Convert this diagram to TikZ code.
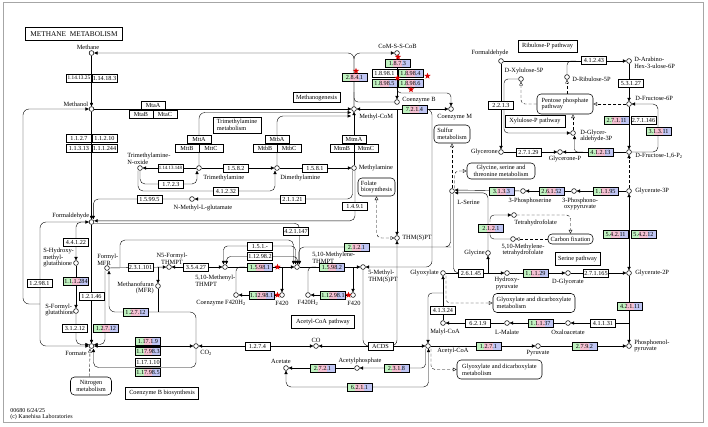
\documentclass[tikz,border=0pt]{standalone}
\usepackage{fontspec}
\setmainfont{Liberation Serif}
\usetikzlibrary{arrows.meta,shapes.geometric,backgrounds}
\definecolor{kgreen}{RGB}{192,242,192}
\definecolor{kpink}{RGB}{244,192,210}
\definecolor{kblue}{RGB}{192,198,244}

\begin{document}
\begin{tikzpicture}[x=1pt, y=-1pt, line width=0.55pt, >={Triangle[length=3.4pt,width=3.2pt]},
  cpd/.style={circle, draw, fill=white, inner sep=0pt, minimum size=4.8pt},
  ec/.style={draw, fill=white, inner sep=0pt, minimum width=25pt, minimum height=8pt, font=\fontsize{6.2}{6.2}\selectfont},
  ecs/.style={ec, font=\fontsize{5.3}{5.3}\selectfont},
  ecxs/.style={ec, font=\fontsize{4.9}{5}\selectfont},
  eck/.style={ec, path picture={
    \fill[kgreen] (path picture bounding box.north west) rectangle ([xshift=8.33pt]path picture bounding box.south west);
    \fill[kpink] ([xshift=8.33pt]path picture bounding box.north west) rectangle ([xshift=16.67pt]path picture bounding box.south west);
    \fill[kblue] ([xshift=16.67pt]path picture bounding box.north west) rectangle (path picture bounding box.south east);}},
  mt/.style={ec, minimum width=24pt},
  lbl/.style={inner sep=0pt, align=center, font=\fontsize{6.4}{6.8}\selectfont},
  mapbox/.style={draw, align=center, inner sep=0pt, font=\fontsize{6.3}{6.8}\selectfont},
  maplink/.style={mapbox, rounded corners=4pt},
  dsh/.style={dash pattern=on 3pt off 2pt, >={Triangle[open,length=3.8pt,width=3.6pt]}},
  redstar/.style={star, star points=5, star point ratio=2.4, fill=red!85!black, draw=none, inner sep=0pt, minimum size=6.5pt}]

\useasboundingbox (0,0) rectangle (708,426);
\draw[black!35, line width=0.7pt] (3,2.5) rectangle (703.5,422);

% title and map boxes
\node[draw, line width=1.3pt, minimum width=97pt, minimum height=13pt, inner sep=0pt, font=\fontsize{7.3}{8}\selectfont] (title) at (74,34) {METHANE~~METABOLISM};
\node[mapbox, minimum width=47pt, minimum height=10pt] (mgen) at (316.5,97.5) {Methanogenesis};
\node[mapbox, minimum width=48pt, minimum height=16pt, align=left] (tmam) at (237,125) {Trimethylamine\\metabolism};
\node[maplink, minimum width=36pt, minimum height=18pt, align=left] (sulfur) at (452,134) {Sulfur\\metabolism};
\node[maplink, minimum width=37pt, minimum height=18pt, align=left] (folate) at (376.5,187) {Folate\\biosynthesis};
\node[maplink, minimum width=68pt, minimum height=16pt] (gst) at (501,171) {Glycine, serine and\\threonine metabolism};
\node[maplink, minimum width=45pt, minimum height=10pt] (carbfix) at (570.5,239) {Carbon fixation};
\node[mapbox, minimum width=45pt, minimum height=13pt] (serpath) at (577.5,258.5) {Serine pathway};
\node[mapbox, minimum width=59pt, minimum height=12pt] (rupath) at (547.5,46) {Ribulose-P pathway};
\node[mapbox, minimum width=60pt, minimum height=12pt] (xupath) at (535,121) {Xylulose-P pathway};
\node[maplink, minimum width=56pt, minimum height=20pt, align=left] (ppp) at (565,104) {Pentose phosphate\\pathway};
\node[maplink, minimum width=82pt, minimum height=19pt, align=left] (glxm1) at (534,303) {Glyoxylate and dicarboxylate\\metabolism};
\node[maplink, minimum width=85pt, minimum height=19pt, align=left] (glxm2) at (499.5,369.5) {Glyoxylate and dicarboxylate\\metabolism};
\node[mapbox, minimum width=63pt, minimum height=13pt] (acpath) at (323,322) {Acetyl-CoA pathway};
\node[mapbox, minimum width=73pt, minimum height=12pt] (cobbio) at (162,393) {Coenzyme B biosynthesis};
\node[maplink, minimum width=41pt, minimum height=18pt] (nitro) at (91,386) {Nitrogen\\metabolism};

% enzymes
\node[ecs] (e11413) at (79,78) {1.14.13.25};
\node[ec] (e11418) at (104.5,78) {1.14.18.3};
\node[ec] (e1127) at (79,138.5) {1.1.2.7};
\node[ec] (e11210) at (104.5,138.5) {1.1.2.10};
\node[ec] (e11313) at (79,148.5) {1.1.3.13};
\node[ec] (e111244) at (104.5,148.5) {1.1.1.244};
\node[mt] (mtaA) at (153,105) {MtaA};
\node[mt] (mtaB) at (141,114) {MtaB};
\node[mt] (mtaC) at (165,114) {MtaC};
\node[mt] (mttA) at (199,139) {MttA};
\node[mt] (mttB) at (187,148) {MttB};
\node[mt] (mttC) at (211,148) {MttC};
\node[mt] (mtbA) at (277,139) {MtbA};
\node[mt] (mtbB) at (265,148) {MtbB};
\node[mt] (mtbC) at (289,148) {MtbC};
\node[mt] (mtmA) at (354,139) {MtmA};
\node[mt] (mtmB) at (342,148) {MtmB};
\node[mt] (mtmC) at (366,148) {MtmC};
\node[ecxs] (e114131) at (170.5,168) {1.14.13.148};
\node[ec] (e1723) at (171,184) {1.7.2.3};
\node[ec] (e41232) at (226,191) {4.1.2.32};
\node[ec] (e1582) at (236,168) {1.5.8.2};
\node[ec] (e1581) at (315,168) {1.5.8.1};
\node[ec] (e21121) at (292.5,199) {2.1.1.21};
\node[ec] (e15995) at (149.5,199) {1.5.99.5};
\node[ec] (e1491) at (355,206) {1.4.9.1};
\node[ec] (e421147) at (296,231) {4.2.1.147};
\node[ec] (e44122) at (76,242.5) {4.4.1.22};
\node[eck] (e111284) at (76,281.5) {1.1.1.284};
\node[ec] (e12981) at (39.5,283) {1.2.98.1};
\node[ec] (e12146) at (91.5,296.5) {1.2.1.46};
\node[ec] (e31212) at (75,328.5) {3.1.2.12};
\node[eck] (e12712b) at (106,328.5) {1.2.7.12};
\node[eck] (e12712a) at (135.5,312) {1.2.7.12};
\node[eck] (e11719) at (148,341.5) {1.17.1.9};
\node[eck] (e117983) at (148,351) {1.17.98.3};
\node[ec] (e117110) at (148,362.5) {1.17.1.10};
\node[eck] (e117985) at (148,372.5) {1.17.98.5};
\node[ec] (e231101) at (140.5,267) {2.3.1.101};
\node[ec] (e35427) at (196,267) {3.5.4.27};
\node[ec] (e151) at (260,246) {1.5.1.-};
\node[ec] (e12982) at (260,256.5) {1.12.98.2};
\node[eck] (e15981) at (260,267) {1.5.98.1};
\node[eck] (e15982) at (332,267) {1.5.98.2};
\node[eck] (e129811) at (261.5,295) {1.12.98.1};
\node[eck] (e129812) at (333,295) {1.12.98.1};
\node[eck] (e2121a) at (356.5,247) {2.1.2.1};
\node[ec] (e1274) at (257.5,346) {1.2.7.4};
\node[ec] (acds) at (380.5,346) {ACDS};
\node[eck] (e2721) at (322.5,368) {2.7.2.1};
\node[eck] (e2318) at (396.5,368) {2.3.1.8};
\node[eck] (e6211) at (359.5,387) {6.2.1.1};
\node[ec] (e41324) at (443,310) {4.1.3.24};
\node[ec] (e6219) at (478,323) {6.2.1.9};
\node[eck] (e11137) at (540.5,323) {1.1.1.37};
\node[ec] (e41131) at (603,323) {4.1.1.31};
\node[eck] (e1271) at (488.5,346) {1.2.7.1};
\node[eck] (e2792) at (584.5,346) {2.7.9.2};
\node[eck] (e42111) at (630,306.5) {4.2.1.11};
\node[ec] (e26145) at (471,273) {2.6.1.45};
\node[eck] (e11129) at (535.5,273) {1.1.1.29};
\node[ec] (e271165) at (596,273) {2.7.1.165};
\node[eck] (e54211) at (615.5,234) {5.4.2.11};
\node[eck] (e54212) at (643.5,234) {5.4.2.12};
\node[eck] (e2121b) at (491,228) {2.1.2.1};
\node[eck] (e3133) at (501.5,191) {3.1.3.3};
\node[eck] (e26152) at (551.5,191) {2.6.1.52};
\node[eck] (e11195) at (605.5,191) {1.1.1.95};
\node[ec] (e27129) at (528.5,152) {2.7.1.29};
\node[eck] (e41213) at (600.5,152) {4.1.2.13};
\node[eck] (e31311) at (658.5,131.5) {3.1.3.11};
\node[eck] (e27111) at (616.5,120.5) {2.7.1.11};
\node[ec] (e271146) at (643.5,120.5) {2.7.1.146};
\node[ec] (e53127) at (631,83.5) {5.3.1.27};
\node[ec] (e41243) at (594,60.5) {4.1.2.43};
\node[ec] (e2213) at (501,105.5) {2.2.1.3};
\node[eck] (e2841) at (354.5,77) {2.8.4.1};
\node[eck] (e1873) at (397.5,63) {1.8.7.3};
\node[ec] (e18981) at (384.5,73) {1.8.98.1};
\node[eck] (e18984) at (410.5,73) {1.8.98.4};
\node[eck] (e18985) at (384.5,83) {1.8.98.5};
\node[eck] (e18986) at (410.5,83) {1.8.98.6};
\node[eck] (e7214) at (414.5,109) {7.2.1.4};

% compounds
\node[cpd] (methane) at (91.5,53) {};
\node[cpd] (methanol) at (91.5,109) {};
\node[cpd] (comssb) at (397,53) {};
\node[cpd] (cob) at (397,102) {};
\node[cpd] (com) at (451,109) {};
\node[cpd] (mcom) at (354,109) {};
\node[cpd] (tmao) at (140,168) {};
\node[cpd] (tma) at (199,168) {};
\node[cpd] (dma) at (277,168) {};
\node[cpd] (ma) at (354,168) {};
\node[cpd] (nmg) at (192,199) {};
\node[cpd] (fald) at (91.5,222) {};
\node[cpd] (shmg) at (76,263) {};
\node[cpd] (sfg) at (76,311) {};
\node[cpd] (formate) at (91.5,346) {};
\node[cpd] (co2) at (196,346) {};
\node[cpd] (fmfr) at (107,268) {};
\node[cpd] (mfr) at (158,286) {};
\node[cpd] (n5f) at (169,267) {};
\node[cpd] (mnyl) at (225,267) {};
\node[cpd] (mlene) at (297,267) {};
\node[cpd] (mthy) at (363,267) {};
\node[cpd] (thm) at (397,238) {};
\node[cpd] (f420h2a) at (236,295) {};
\node[cpd] (f420a) at (282,295) {};
\node[cpd] (f420h2b) at (308,295) {};
\node[cpd] (f420b) at (353,295) {};
\node[cpd] (co) at (316,346) {};
\node[cpd] (acoa) at (428,346) {};
\node[cpd] (acp) at (357,368) {};
\node[cpd] (acet) at (286,368) {};
\node[cpd] (glyox) at (443,273) {};
\node[cpd] (mlcoa) at (443,323) {};
\node[cpd] (mal) at (507,323) {};
\node[cpd] (oaa) at (568,323) {};
\node[cpd] (pyr) at (538,346) {};
\node[cpd] (pep) at (629,346) {};
\node[cpd] (g2p) at (629,273) {};
\node[cpd] (dgly) at (568,273) {};
\node[cpd] (hpyr) at (507,273) {};
\node[cpd] (gly) at (488,253) {};
\node[cpd] (ser) at (452,191) {};
\node[cpd] (thf) at (514,215) {};
\node[cpd] (mthf) at (513,239) {};
\node[cpd] (pser) at (523,191) {};
\node[cpd] (php) at (574,191) {};
\node[cpd] (g3p) at (629,191) {};
\node[cpd] (f16) at (629,152) {};
\node[cpd] (gnp) at (560,152) {};
\node[cpd] (gn) at (501,152) {};
\node[cpd] (gap) at (573,133) {};
\node[cpd] (f6p) at (629,104) {};
\node[cpd] (ahu) at (629,61) {};
\node[cpd] (fald2) at (501,61) {};
\node[cpd] (xu5p) at (521,79) {};
\node[cpd] (ru5p) at (567,77) {};
\coordinate (mcomT) at (351,112.5);
\coordinate (mcomB) at (351,116);
\coordinate (pepj) at (629,323);

% compound labels
\node[lbl] (tmethane) at (88,47) {Methane};
\node[lbl, anchor=east] (tmethanol) at (88.5,104) {Methanol};
\node[lbl] (tcomssb) at (397.5,46) {CoM-S-S-CoB};
\node[lbl, anchor=west] (tcob) at (402,100.5) {Coenzyme B};
\node[lbl, anchor=west] (tcom) at (437,117.5) {Coenzyme M};
\node[lbl, anchor=west] (tmcom) at (359,116.5) {Methyl-CoM};
\node[lbl, anchor=west, align=left] (ttmao) at (127,158.5) {Trimethylamine-\\N-oxide};
\node[lbl, anchor=west] (ttma) at (203,178) {Trimethylamine};
\node[lbl, anchor=west] (tdma) at (280,178) {Dimethylamine};
\node[lbl, anchor=west] (tma2) at (358.5,168) {Methylamine};
\node[lbl] (tnmg) at (203,208) {N-Methyl-L-glutamate};
\node[lbl, anchor=east] (tfald) at (89.5,216) {Formaldehyde};
\node[lbl, anchor=west, align=left] (tshmg) at (43,257.5) {S-Hydroxy-\\methyl-\\glutathione};
\node[lbl, anchor=west, align=left] (tsfg) at (45,310) {S-Formyl-\\glutathione};
\node[lbl] (tformate) at (76,353) {Formate};
\node[lbl, anchor=west] (tco2) at (200,353) {CO\textsubscript{2}};
\node[lbl, anchor=west, align=left] (tfmfr) at (97,259.5) {Formyl-\\MFR};
\node[lbl, anchor=east, align=right] (tmfr) at (154,288) {Methanofuran\\(MFR)};
\node[lbl] (tn5f) at (172,258.5) {N5-Formyl-\\THMPT};
\node[lbl, anchor=west, align=left] (tmnyl) at (195,280.5) {5,10-Methenyl-\\THMPT};
\node[lbl, anchor=west, align=left] (tmlene) at (312,258) {5,10-Methylene-\\THMPT};
\node[lbl, anchor=west, align=left] (tmthy) at (368,276.5) {5-Methyl-\\THM(S)PT};
\node[lbl, anchor=west] (tthm) at (402,238) {THM(S)PT};
\node[lbl] (tf420h2a) at (221,303) {Coenzyme F420H\textsubscript{2}};
\node[lbl] (tf420a) at (282,303) {F420};
\node[lbl] (tf420h2b) at (308,303) {F420H\textsubscript{2}};
\node[lbl] (tf420b) at (354,303) {F420};
\node[lbl] (tco) at (316,340) {CO};
\node[lbl, anchor=west] (tacoa) at (437,351) {Acetyl-CoA};
\node[lbl] (tacp) at (360,361) {Acetylphosphate};
\node[lbl] (tacet) at (281,361) {Acetate};
\node[lbl, anchor=east] (tglyox) at (439,273) {Glyoxylate};
\node[lbl] (tmlcoa) at (445,332) {Malyl-CoA};
\node[lbl] (tmal) at (507,332) {L-Malate};
\node[lbl] (toaa) at (568,332) {Oxaloacetate};
\node[lbl] (tpyr) at (538,353) {Pyruvate};
\node[lbl, anchor=west, align=left] (tpep) at (634,346) {Phosphoenol-\\pyruvate};
\node[lbl, anchor=west] (tg2p) at (635,273) {Glycerate-2P};
\node[lbl] (tdgly) at (568,282) {D-Glycerate};
\node[lbl] (thpyr) at (507,283.5) {Hydroxy-\\pyruvate};
\node[lbl, anchor=east] (tgly) at (485,253) {Glycine};
\node[lbl, anchor=west] (tser) at (457,202) {L-Serine};
\node[lbl, anchor=west] (tthf) at (514,223) {Tetrahydrofolate};
\node[lbl] (tmthf) at (523,250) {5,10-Methylene-\\tetrahydrofolate};
\node[lbl] (tpser) at (530,201) {3-Phosphoserine};
\node[lbl] (tphp) at (580,204) {3-Phosphono-\\oxypyruvate};
\node[lbl, anchor=west] (tg3p) at (635,191) {Glycerate-3P};
\node[lbl, anchor=west] (tf16) at (635,156) {D-Fructose-1,6-P\textsubscript{2}};
\node[lbl] (tgnp) at (565,159) {Glycerone-P};
\node[lbl, anchor=east] (tgn) at (498,152) {Glycerone};
\node[lbl, anchor=west, align=left] (tgap) at (580,136) {D-Glycer-\\aldehyde-3P};
\node[lbl, anchor=west] (tf6p) at (635,98) {D-Fructose-6P};
\node[lbl, anchor=west, align=left] (tahu) at (634,63) {D-Arabino-\\Hex-3-ulose-6P};
\node[lbl] (tfald2) at (490,53) {Formaldehyde};
\node[lbl] (txu5p) at (524,71) {D-Xylulose-5P};
\node[lbl, anchor=west] (tru5p) at (572,79) {D-Ribulose-5P};
\node[lbl, anchor=west, align=left, font=\fontsize{6}{5.8}\selectfont] (foot) at (10,414.5) {00680 6/24/25\\(c) Kanehisa Laboratories};

% stars
\node[redstar] (s1) at (398,57) {};
\node[redstar] (s2) at (356,71) {};
\node[redstar] (s3) at (427.5,76) {};
\node[redstar] (s4) at (397.5,78) {};
\node[redstar] (s5) at (411,89.5) {};
\node[redstar] (s6) at (277.5,267) {};
\node[redstar] (s7) at (277.5,295) {};
\node[redstar] (s8) at (348.5,295) {};

\begin{scope}[on background layer]
% methane, methanol, formaldehyde, formate
\draw[->] (methane) -- (methanol);
\draw[->] (methanol) -- (fald);
\draw[->] (fald) -- (formate);
\draw[->] (methanol) -- (mcom);
\draw[->, rounded corners=6pt] (40,304) -| (23,109) -- (methanol);
\draw[->, rounded corners=6pt] (fald) -| (40,346) -- (formate);
\draw[<->, rounded corners=5pt] (fald) -| (shmg);
\draw[->] (shmg) -- (sfg);
\draw[->, rounded corners=5pt] (sfg) |- ([yshift=1.5pt]formate.west);
\draw[->, rounded corners=5pt] ([xshift=-2pt]fmfr.south) |- ([yshift=1.5pt]formate.east);
\draw[<->] (formate) -- (co2);
\draw[->, rounded corners=5pt] (co2) |- (93.5,367.5) -- ([xshift=2pt]formate.south);
\draw[dsh, ->] ([xshift=-1.5pt]nitro.north) -- ([xshift=-1.5pt]formate.south);
\draw[->, rounded corners=6pt] (co2) |- (109,312) -- ([xshift=2pt]fmfr.south);
\draw (mfr) -- (158,312);
% THMPT branch
\draw[->] (fmfr) -- (n5f);
\draw[->] (158,267) -- (mfr);
\draw[<->] (n5f) -- (mnyl);
\draw[->, rounded corners=5pt] (120,267) |- (293.5,240) -- ([xshift=-3.5pt]mlene.north);
\draw[->] (mnyl) -- (mlene);
\draw[<->, rounded corners=4pt] ([xshift=-1.5pt]mnyl.north) |- (260,246) -| ([xshift=-1.5pt]mlene.north);
\draw[<->, rounded corners=4pt] ([xshift=1.5pt]mnyl.north) |- (260,256.5) -| ([xshift=0.5pt]mlene.north);
\draw[->, rounded corners=5pt] ([yshift=-1.2pt]fald.east) -| ([xshift=2.5pt]mlene.north);
\draw[rounded corners=5pt] (mlene.north east) |- (446,247) -| ([xshift=-1.5pt]ser.south);
\draw[->] (mlene) -- (mthy);
\draw[rounded corners=4pt] (f420h2a) |- (245,267);
\draw[->] (282,267) -- (f420a);
\draw[->] (f420a) -- (f420h2a);
\draw[rounded corners=4pt] (f420h2b) |- (316,267);
\draw[->] (353,267) -- (f420b);
\draw[->] (f420b) -- (f420h2b);
% coenzyme M side
\draw[<->] (mcom) -- (com);
\draw[->] (397,109) -- (thm);
\draw[->, rounded corners=6pt] (427,109) -| (432,267) -- (mthy);
\draw[->, rounded corners=6pt] (mcom) |- (methane);
\draw[->, rounded corners=6pt] (mcom) |- (comssb);
\draw[->] (comssb) -- (cob);
\draw[rounded corners=4pt] (354,92) |- (cob);
\draw[->, rounded corners=4pt] (397,87) |- (451,93) -- (com);
% methylamines
\draw[->, rounded corners=6pt] (tma) |- (mcomT);
\draw[->, rounded corners=6pt] (dma) |- (mcomB);
\draw[->] (ma) -- (mcom);
\draw[->] (tma) -- (tmao);
\draw[->, rounded corners=5pt] (tmao) |- (197,184) -- ([xshift=-2pt]tma.south);
\draw[->, rounded corners=5pt] ([xshift=-2pt]tmao.south) |- (275,191) -- ([xshift=-2pt]dma.south);
\draw[->] (tma) -- (dma);
\draw[->] (dma) -- (ma);
\draw[->, rounded corners=5pt] ([xshift=-1.5pt]ma.south) |- (nmg);
\draw[->, rounded corners=5pt] ([xshift=1pt]ma.south) |- ([yshift=1.2pt]fald.east);
\draw[->, rounded corners=5pt] (nmg) -| ([xshift=1.8pt]fald.north);
% THM(S)PT and acetyl-CoA
\draw[dsh, <->, rounded corners=5pt] (folate) |- (thm);
\draw[->, rounded corners=6pt] (mthy) |- (acds) -| (thm);
\draw[<->] (co2) -- (co);
\draw[->] (acds) -- (co);
\draw[->] (acds) -- (acoa);
\draw[->] (acoa) -- (pyr);
\draw[->] (pyr) -- (pep);
\draw[->] (g2p) -- (pep);
\draw[->] (pepj) -- (oaa);
\draw[->] (oaa) -- (mal);
\draw[->] (mal) -- (mlcoa);
\draw[->] (mlcoa) -- (glyox);
\draw[->, rounded corners=4pt] (443,293) -| (acoa);
\draw[dsh, ->, rounded corners=4pt] ([xshift=3pt]glyox.south) |- (glxm1);
\draw[dsh, ->, rounded corners=4pt] ([xshift=3pt]acoa.south) |- (glxm2);
\draw[->, rounded corners=4pt] ([xshift=-2.5pt]acoa.south) |- (acp);
\draw[->] (acp) -- (acet);
\draw[<->, rounded corners=5pt] (acet) |- (428.5,387) -- ([xshift=0.5pt]acoa.south);
% serine cycle
\draw[->] (glyox) -- (hpyr);
\draw[->] (488,273) -- (gly);
\draw[rounded corners=5pt] ([xshift=1.5pt]ser.south) |- (459,273);
\draw[->, rounded corners=5pt] (gly) |- ([yshift=-1.8pt]ser.east);
\draw[->] (pser) -- ([yshift=1pt]ser.east);
\draw[->, rounded corners=4pt] (490,222) |- (thf);
\draw[rounded corners=4pt] (490,233) |- (mthf);
\draw[dsh, ->, rounded corners=4pt] (thf) -| (carbfix);
\draw[dsh, ->] (carbfix) -- (mthf);
\draw[dsh, ->] (ser) -- (sulfur);
\draw[dsh, ->, rounded corners=4pt] ([xshift=2.5pt]ser.north) |- (gst);
\draw[->] (php) -- (pser);
\draw[->] (g3p) -- (php);
\draw[<->] (g3p) -- (g2p);
\draw[dash pattern=on 3pt off 2pt, ->] (g3p) -- (f16);
\draw[->] (hpyr) -- (dgly);
\draw[->] (dgly) -- (g2p);
% ribulose monophosphate pathway
\draw[->] (fald2) -- (ahu);
\draw[rounded corners=4pt] (ru5p) |- (576,61);
\draw[->] (ahu) -- (f6p);
\draw[->] (f6p) -- (f16);
\draw[->, rounded corners=5pt] (f16) -| (658,104) -- (f6p);
\draw[->] (fald2) -- (gn);
\draw[->] (gn) -- (gnp);
\draw[->] (f16) -- (gnp);
\draw[->, rounded corners=3pt] (583,152) -| ([xshift=1.5pt]gap.south);
\draw[->, rounded corners=4pt] (xu5p) -| (504,133) -- (gap);
\draw[dsh, ->, rounded corners=4pt] (ppp) -| (xu5p);
\draw[dsh, ->] (ppp.north -| ru5p) -- (ru5p);
\draw[dsh, ->] (gap) -- (gap |- ppp.south);
\draw[dsh, ->] (f6p) -- (ppp);
\end{scope}
\end{tikzpicture}
\end{document}
